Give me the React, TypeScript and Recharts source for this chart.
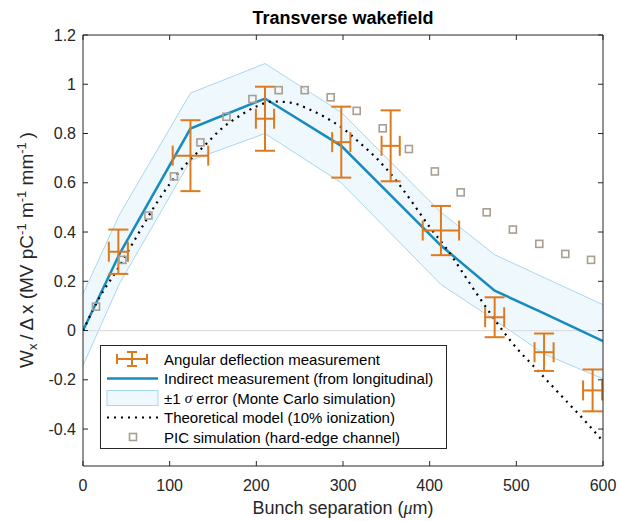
import {
  ComposedChart,
  Line,
  Area,
  Scatter,
  ErrorBar,
  XAxis,
  YAxis,
  ReferenceLine,
  Legend,
} from "recharts";

const ORANGE = "#de7a1e";
const BLUE = "#178bbd";
const BAND_FILL = "#eff8fd";
const BAND_STROKE = "#a8d8ee";
const SQUARE = "#a89f92";
const AXIS = "#262626";
const FONT = "'Liberation Sans', Arial, Helvetica, sans-serif";

// angular deflection measurement (x +- ex, y +- ey)
const measX = [40.8, 124, 210, 298, 355, 413, 475, 532, 588];
const measY = [0.32, 0.71, 0.86, 0.765, 0.75, 0.406, 0.054, -0.088, -0.243];
const measErrX = [11, 20.5, 10.5, 10.5, 10.5, 21, 11, 11, 11];
const measErrY = [0.09, 0.144, 0.13, 0.144, 0.144, 0.1, 0.081, 0.076, 0.085];

// indirect measurement + monte carlo band
const indirectX = [0, 42, 124, 210, 298, 413, 475, 532, 600];
const indirectY = [0, 0.31, 0.82, 0.942, 0.75, 0.345, 0.162, 0.07, -0.043];
const bandLow = [-0.142, 0.19, 0.69, 0.8, 0.6, 0.187, 0.043, -0.095, -0.196];
const bandHigh = [0.149, 0.47, 0.964, 1.084, 0.886, 0.48, 0.308, 0.215, 0.105];

// theoretical model (10% ionization)
const theoryX = [0, 20, 40, 60, 80, 100, 120, 140, 160, 180, 200, 220, 240, 260, 280, 300, 320, 340, 360, 380, 400, 420, 440, 460, 480, 500, 520, 540, 560, 580, 600];
const theoryY = [0, 0.14, 0.25, 0.37, 0.49, 0.595, 0.68, 0.75, 0.82, 0.87, 0.91, 0.93, 0.925, 0.9, 0.865, 0.82, 0.76, 0.695, 0.615, 0.52, 0.42, 0.33, 0.225, 0.12, 0.02, -0.07, -0.145, -0.22, -0.295, -0.37, -0.45];

// PIC simulation (hard-edge channel)
const picX = [15, 45.5, 75.5, 105, 135.5, 165.5, 195.5, 225.8, 255.8, 285.8, 315.8, 345.8, 376, 406, 435.8, 465.8, 496, 526.5, 556.5, 586.2];
const picY = [0.097, 0.287, 0.467, 0.626, 0.764, 0.868, 0.94, 0.976, 0.976, 0.947, 0.892, 0.821, 0.737, 0.646, 0.561, 0.48, 0.41, 0.352, 0.311, 0.287];

const xTicks = [0, 100, 200, 300, 400, 500, 600];
const yTicks = [-0.4, -0.2, 0, 0.2, 0.4, 0.6, 0.8, 1, 1.2];

const measData = measX.map((x, i) => ({ x, y: measY[i], ex: measErrX[i], ey: measErrY[i] }));
const indirectData = indirectX.map((x, i) => ({ x, y: indirectY[i], band: [bandLow[i], bandHigh[i]] }));
const theoryData = theoryX.map((x, i) => ({ x, y: theoryY[i] }));
const picData = picX.map((x, i) => ({ x, y: picY[i] }));

const Square = (props: any) => {
  const { cx, cy } = props;
  return (
    <rect x={cx - 3.5} y={cy - 3.5} width={7} height={7} fill="none" stroke={SQUARE} strokeWidth={1.6} />
  );
};

// inward ticks, matlab style
const BottomTick = (p: any) => (
  <g>
    <line x1={p.x} x2={p.x} y1={p.y} y2={p.y - 5} stroke={AXIS} />
    <text x={p.x} y={p.y + 19} textAnchor="middle" dominantBaseline="central" fontSize={16} fontFamily={FONT} fill={AXIS}>
      {p.payload.value}
    </text>
  </g>
);
const TopTick = (p: any) => <line x1={p.x} x2={p.x} y1={p.y} y2={p.y + 5} stroke={AXIS} />;
const LeftTick = (p: any) => (
  <g>
    <line x1={p.x} x2={p.x + 5} y1={p.y} y2={p.y} stroke={AXIS} />
    <text x={p.x - 7} y={p.y} textAnchor="end" dominantBaseline="central" fontSize={16} fontFamily={FONT} fill={AXIS}>
      {String(p.payload.value)}
    </text>
  </g>
);
const RightTick = (p: any) => <line x1={p.x} x2={p.x - 5} y1={p.y} y2={p.y} stroke={AXIS} />;

const rowY = [14, 33.5, 53, 72.5, 92];
const legendLabels = [
  "Angular deflection measurement",
  "Indirect measurement (from longitudinal)",
  null,
  "Theoretical model (10% ionization)",
  "PIC simulation (hard-edge channel)",
];

function LegendBox() {
  return (
    <svg width={347} height={104} style={{ display: "block" }}>
      <rect x={0.5} y={0.5} width={346} height={103} fill="#fff" stroke={AXIS} strokeWidth={1} />
      <g stroke={ORANGE} strokeWidth={2}>
        <line x1={17} x2={47} y1={rowY[0]} y2={rowY[0]} />
        <line x1={32} x2={32} y1={rowY[0] - 7} y2={rowY[0] + 7} />
        <line x1={17} x2={17} y1={rowY[0] - 5} y2={rowY[0] + 5} />
        <line x1={47} x2={47} y1={rowY[0] - 5} y2={rowY[0] + 5} />
        <line x1={27} x2={37} y1={rowY[0] - 7} y2={rowY[0] - 7} />
        <line x1={27} x2={37} y1={rowY[0] + 7} y2={rowY[0] + 7} />
      </g>
      <line x1={7} x2={58} y1={rowY[1]} y2={rowY[1]} stroke={BLUE} strokeWidth={2.5} />
      <rect x={7} y={rowY[2] - 7.5} width={51} height={15} fill={BAND_FILL} stroke={BAND_STROKE} strokeWidth={1} />
      <line x1={7} x2={58} y1={rowY[3]} y2={rowY[3]} stroke="#000" strokeWidth={2.2} strokeDasharray="2 5" />
      <rect x={29.5} y={rowY[4] - 3.5} width={7} height={7} fill="none" stroke={SQUARE} strokeWidth={1.6} />
      <g fontFamily={FONT} fontSize={15} fill="#000">
        {legendLabels.map((t, i) =>
          t ? (
            <text key={i} x={64} y={rowY[i]} dominantBaseline="central">
              {t}
            </text>
          ) : (
            <text key={i} x={64} y={rowY[i]} dominantBaseline="central">
              ±1{" "}
              <tspan fontFamily="'Liberation Serif', serif" fontStyle="italic">
                σ
              </tspan>{" "}
              error (Monte Carlo simulation)
            </text>
          )
        )}
      </g>
    </svg>
  );
}

const Title = () => (
  <text x={343} y={24} textAnchor="middle" fontFamily={FONT} fontSize={18} fontWeight="bold" fill="#000">
    Transverse wakefield
  </text>
);

const XLabel = () => (
  <text x={343} y={514} textAnchor="middle" fontFamily={FONT} fontSize={18} fill={AXIS}>
    Bunch separation (
    <tspan fontFamily="'Liberation Serif', serif" fontStyle="italic">
      μ
    </tspan>
    m)
  </text>
);

const YLabel = () => (
  <text
    x={0}
    y={0}
    transform="translate(33,250) rotate(-90)"
    textAnchor="middle"
    fontFamily={FONT}
    fontSize={19}
    fill={AXIS}
  >
    W
    <tspan fontSize={13} dy={4}>x</tspan>
    <tspan dy={-4}>{"\u2009/\u2009Δ\u2009x (MV pC"}</tspan>
    <tspan fontSize={13} dy={-7}>-1</tspan>
    <tspan dy={7}>{"  m"}</tspan>
    <tspan fontSize={13} dy={-7}>-1</tspan>
    <tspan dy={7}>{"  mm"}</tspan>
    <tspan fontSize={13} dy={-7}>-1</tspan>
    <tspan dy={7}>{"\u2009)"}</tspan>
  </text>
);

export default function App() {
  return (
    <div style={{ width: 619, height: 521, background: "#fff" }}>
      <style>{"body{margin:0;background:#fff}"}</style>
      <ComposedChart width={619} height={521} margin={{ top: 34, right: 15, bottom: 0, left: 0 }}>
        <XAxis
          dataKey="x"
          type="number"
          domain={[0, 600]}
          ticks={xTicks}
          allowDataOverflow
          height={55}
          tickSize={0}
          tickMargin={0}
          tickLine={false}
          stroke={AXIS}
          tick={BottomTick}
          label={{ content: () => <XLabel /> }}
        />
        <XAxis
          xAxisId="top"
          orientation="top"
          dataKey="x"
          type="number"
          domain={[0, 600]}
          ticks={xTicks}
          allowDataOverflow
          height={1}
          tickSize={0}
          tickMargin={0}
          tickLine={false}
          stroke={AXIS}
          tick={TopTick}
          label={{ content: () => <Title /> }}
        />
        <YAxis
          type="number"
          domain={[-0.55, 1.2]}
          ticks={yTicks}
          allowDataOverflow
          width={83}
          tickSize={0}
          tickMargin={0}
          tickLine={false}
          stroke={AXIS}
          tick={LeftTick}
          label={{ content: () => <YLabel /> }}
        />
        <YAxis
          yAxisId="right"
          orientation="right"
          type="number"
          domain={[-0.55, 1.2]}
          ticks={yTicks}
          allowDataOverflow
          width={1}
          tickSize={0}
          tickMargin={0}
          tickLine={false}
          stroke={AXIS}
          tick={RightTick}
        />
        <Area
          data={indirectData}
          dataKey="band"
          type="linear"
          fill={BAND_FILL}
          fillOpacity={1}
          stroke={BAND_STROKE}
          strokeWidth={1}
          isAnimationActive={false}
        />
        <ReferenceLine y={0} stroke="#dedede" strokeWidth={1.2} />
        <Line
          data={indirectData}
          dataKey="y"
          type="linear"
          stroke={BLUE}
          strokeWidth={2.5}
          dot={false}
          isAnimationActive={false}
        />
        <Line
          data={theoryData}
          dataKey="y"
          type="monotone"
          stroke="#000"
          strokeWidth={2.2}
          strokeDasharray="2 5"
          dot={false}
          isAnimationActive={false}
        />
        <Scatter data={picData} dataKey="y" shape={Square} isAnimationActive={false} />
        <Scatter data={measData} dataKey="y" shape={() => <g />} isAnimationActive={false}>
          <ErrorBar dataKey="ey" direction="y" width={10} stroke={ORANGE} strokeWidth={2} />
          <ErrorBar dataKey="ex" direction="x" width={10} stroke={ORANGE} strokeWidth={2} />
        </Scatter>
        <Legend
          layout="vertical"
          align="center"
          verticalAlign="middle"
          content={() => <LegendBox />}
          wrapperStyle={{ left: 100, top: 345, width: 347, height: 104 }}
        />
      </ComposedChart>
    </div>
  );
}
